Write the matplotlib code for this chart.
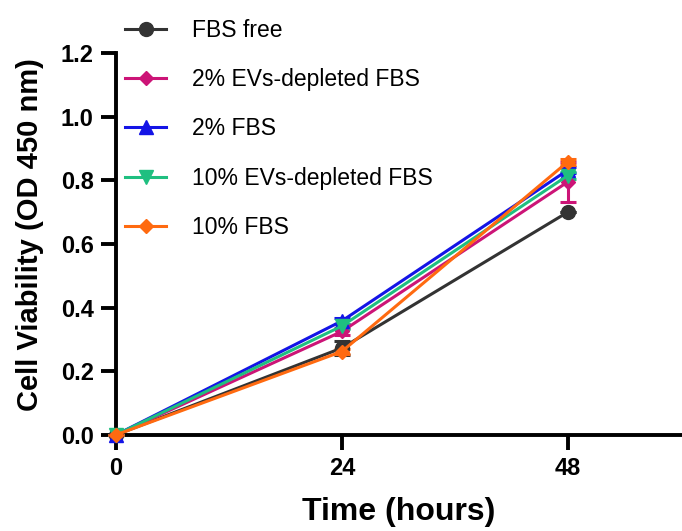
import matplotlib
matplotlib.use("Agg")
import matplotlib.pyplot as plt
from matplotlib.lines import Line2D

plt.rcParams['font.family'] = ['Liberation Sans', 'DejaVu Sans']

time_h = [0, 24, 48]
labels = ['FBS free', '2% EVs-depleted FBS', '2% FBS',
          '10% EVs-depleted FBS', '10% FBS']
fbs_free = [0.0, 0.273, 0.70]
evd_2 = [0.0, 0.325, 0.795]
fbs_2 = [0.0, 0.358, 0.832]
evd_10 = [0.0, 0.342, 0.815]
fbs_10 = [0.0, 0.262, 0.858]
err_fbs_free = [0.0, 0.022, 0.0]
err_evd_2 = [0.0, 0.012, 0.064]
err_fbs_2 = [0.0, 0.008, 0.01]
err_evd_10 = [0.0, 0.008, 0.01]
err_fbs_10 = [0.0, 0.008, 0.01]

series = [fbs_free, evd_2, fbs_2, evd_10, fbs_10]
errors = [err_fbs_free, err_evd_2, err_fbs_2, err_evd_10, err_fbs_10]
colors = ['#333333', '#CC1477', '#1414E6', '#1FBF80', '#FF6A10']
markers = ['o', 'D', '^', 'v', 'D']
msizes = [10, 7, 9.5, 9.5, 7]

fig = plt.figure(figsize=(6.82, 5.31), dpi=100)
ax = fig.add_axes([0.170, 0.181, 0.828, 0.719])

handles = []
for y, e, c, m, ms, lab in zip(series, errors, colors, markers, msizes, labels):
    ax.errorbar(time_h, y, yerr=e, color=c, marker=m, markersize=ms,
                linewidth=2.2, elinewidth=2.2, capsize=6, capthick=2.2,
                clip_on=False, zorder=3)
    handles.append(Line2D([], [], color=c, marker=m, markersize=ms,
                          linewidth=2.2, label=lab))

ax.set_xlim(0, 60)
ax.set_ylim(0, 1.2)
ax.set_xticks([0, 24, 48])
ax.set_yticks([0.0, 0.2, 0.4, 0.6, 0.8, 1.0, 1.2])
ax.set_yticklabels(['0.0', '0.2', '0.4', '0.6', '0.8', '1.0', '1.2'])
for side in ['top', 'right']:
    ax.spines[side].set_visible(False)
for side in ['left', 'bottom']:
    ax.spines[side].set_linewidth(2.8)
ax.tick_params(width=2.8, length=11, labelsize=17, pad=5)
for t in ax.get_xticklabels() + ax.get_yticklabels():
    t.set_fontweight('bold')
ax.set_xlabel('Time (hours)', fontsize=23, fontweight='bold', labelpad=12)
ax.set_ylabel('Cell Viability (OD 450 nm)', fontsize=21, fontweight='bold')
ax.yaxis.set_label_coords(-0.127, 0.524)

fig.legend(handles=handles, loc='upper left', bbox_to_anchor=(0.170, 0.982),
           frameon=False, fontsize=16.5, handlelength=1.8, labelspacing=1.15,
           handletextpad=1.1, borderaxespad=0.0)

fig.savefig('out.png', dpi=100)
